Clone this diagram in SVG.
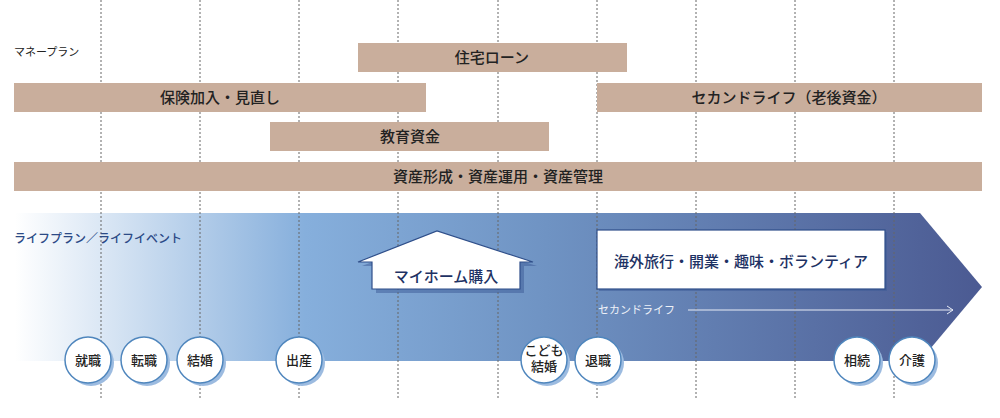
<svg xmlns="http://www.w3.org/2000/svg" width="1000" height="418" viewBox="0 0 1000 418">
<style>
text{font-family:"Noto Sans CJK JP",sans-serif}
.bar{fill:#c9ae9c}
.bt{font-size:15px;fill:#222;text-anchor:middle;font-weight:500}
.grid line{stroke:#666;stroke-width:1;stroke-dasharray:2,2}
.c circle{fill:#fff;stroke:#4f86bd;stroke-width:1.5}
.c .sh{fill:#9cbbe0;stroke:none}
.c text{font-size:13px;fill:#222;text-anchor:middle;font-weight:500}
</style>
<defs>
<linearGradient id="g" x1="15" x2="982" y1="0" y2="0" gradientUnits="userSpaceOnUse">
<stop offset="0" stop-color="#ffffff"/>
<stop offset="0.3" stop-color="#86afdc"/>
<stop offset="0.55" stop-color="#6f93c3"/>
<stop offset="1" stop-color="#4b5a92"/>
</linearGradient>
<marker id="ah" markerWidth="8" markerHeight="10" refX="7" refY="5" orient="auto" markerUnits="userSpaceOnUse"><path d="M1,1 L7,5 L1,9" fill="none" stroke="#e8ecf5" stroke-width="1"/></marker>
</defs>
<polygon id="lifearrow" points="15,213 920,213 982,287 920,361 15,361" fill="url(#g)"/>
<g class="grid">
<line x1="101" y1="0" x2="101" y2="398"/><line x1="200" y1="0" x2="200" y2="398"/><line x1="299" y1="0" x2="299" y2="398"/><line x1="398" y1="0" x2="398" y2="398"/><line x1="498" y1="0" x2="498" y2="398"/><line x1="597" y1="0" x2="597" y2="398"/><line x1="696" y1="0" x2="696" y2="398"/><line x1="795" y1="0" x2="795" y2="398"/><line x1="894" y1="0" x2="894" y2="398"/>
</g>
<text x="14" y="56" font-size="11" fill="#222">マネープラン</text>
<g id="loan"><rect class="bar" x="358" y="43" width="269" height="29"/><text class="bt" x="492" y="63">住宅ローン</text></g>
<g id="hoken"><rect class="bar" x="14" y="83" width="412" height="29"/><text class="bt" x="220" y="103">保険加入・見直し</text></g>
<g id="second"><rect class="bar" x="597" y="83" width="385" height="29"/><text class="bt" x="789" y="103">セカンドライフ（老後資金）</text></g>
<g id="kyouiku"><rect class="bar" x="270" y="122" width="279" height="29"/><text class="bt" x="410" y="142">教育資金</text></g>
<g id="shisan"><rect class="bar" x="14" y="162" width="968" height="29"/><text class="bt" x="498" y="182">資産形成・資産運用・資産管理</text></g>
<text x="14" y="243" font-size="12" fill="#2c4a86" font-weight="500">ライフプラン／ライフイベント</text>
<g id="house">
<polygon points="360,264 439,233 535,264 522,264 522,291 374,291 374,264" fill="#3b5a96" transform="translate(2,2)" opacity="0.5"/>
<polygon points="358,262 437,231 533,262 520,262 520,289 372,289 372,262" fill="#fff" stroke="#2f4f8a" stroke-width="1.2"/>
<text x="446" y="282" font-size="15" fill="#1e3264" text-anchor="middle" font-weight="500">マイホーム購入</text>
</g>
<g id="hobby">
<rect x="599" y="232" width="288" height="59" fill="#3b5a96" opacity="0.5"/>
<rect x="597" y="230" width="288" height="59" fill="#fff" stroke="#2f4f8a" stroke-width="1.2"/>
<text x="741" y="267" font-size="15" fill="#1e3264" text-anchor="middle" font-weight="500">海外旅行・開業・趣味・ボランティア</text>
</g>
<g id="connectors">
<text x="598" y="314" font-size="11" fill="#eef1f8">セカンドライフ</text>
<line x1="688" y1="310" x2="953" y2="310" stroke="#e8ecf5" stroke-width="1.2" marker-end="url(#ah)"/>
</g>
<g class="c" id="e1"><circle class="sh" cx="91" cy="363" r="23"/><circle cx="88" cy="360" r="23"/><text x="88" y="365">就職</text></g>
<g class="c" id="e2"><circle class="sh" cx="147" cy="363" r="23"/><circle cx="144" cy="360" r="23"/><text x="144" y="365">転職</text></g>
<g class="c" id="e3"><circle class="sh" cx="203" cy="363" r="23"/><circle cx="200" cy="360" r="23"/><text x="200" y="365">結婚</text></g>
<g class="c" id="e4"><circle class="sh" cx="302" cy="363" r="23"/><circle cx="299" cy="360" r="23"/><text x="299" y="365">出産</text></g>
<g class="c" id="e5"><circle class="sh" cx="547" cy="363" r="23"/><circle cx="544" cy="360" r="23"/><text x="544" y="355" font-size="10">こども</text><text x="544" y="371" font-size="10">結婚</text></g>
<g class="c" id="e6"><circle class="sh" cx="601" cy="363" r="23"/><circle cx="598" cy="360" r="23"/><text x="598" y="365">退職</text></g>
<g class="c" id="e7"><circle class="sh" cx="860" cy="363" r="23"/><circle cx="857" cy="360" r="23"/><text x="857" y="365">相続</text></g>
<g class="c" id="e8"><circle class="sh" cx="915" cy="363" r="23"/><circle cx="912" cy="360" r="23"/><text x="912" y="365">介護</text></g>
</svg>
